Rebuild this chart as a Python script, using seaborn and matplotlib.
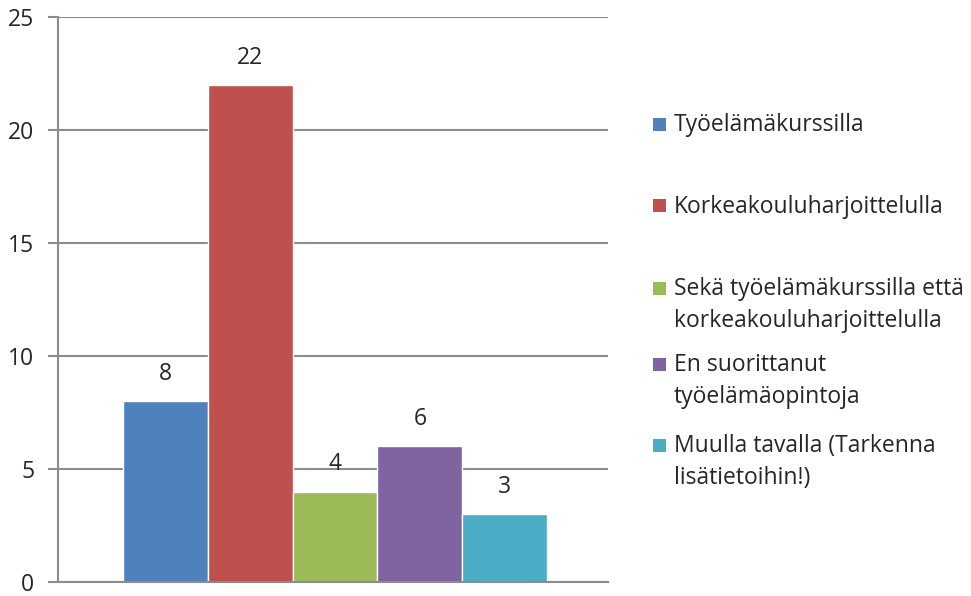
import matplotlib
matplotlib.use("Agg")
import matplotlib.pyplot as plt
import seaborn as sns
import pandas as pd
from matplotlib.patches import Rectangle

# ── Data ─────────────────────────────────────────────────────────────────────
categories = [
    "Työelämäkurssilla",
    "Korkeakouluharjoittelulla",
    "Sekä työelämäkurssilla että\nkorkeakouluharjoittelulla",
    "En suorittanut\ntyöelämäopintoja",
    "Muulla tavalla (Tarkenna\nlisätietoihin!)",
]
counts = [8, 22, 4, 6, 3]
colors = ["#4F81BD", "#C0504D", "#9BBB59", "#8064A2", "#4BACC6"]
y_ticks = [0, 5, 10, 15, 20, 25]

df = pd.DataFrame({"category": categories, "count": counts})

sns.set_theme(style="white")
plt.rcParams["font.family"] = ["Open Sans", "DejaVu Sans"]
text_color = "#262626"
grid_color = "#8C8C8C"
fs = 16.5

fig = plt.figure(figsize=(9.71, 5.96), dpi=100)
ax = fig.add_axes([58 / 971, 14 / 596, 550 / 971, 565 / 596])

sns.barplot(data=df, x="category", y="count", hue="category",
            palette=colors, width=1.0, dodge=False, legend=False,
            saturation=1, ax=ax)

for cont in ax.containers:
    ax.bar_label(cont, padding=11, fontsize=fs, color=text_color)

ax.set_ylim(0, 25)
ax.set_xlim(-1.27, 5.22)
ax.set_yticks(y_ticks)
ax.set_xticks([])
ax.set_xlabel("")
ax.set_ylabel("")
ax.tick_params(axis="y", length=7, width=1.5, color=grid_color, pad=10,
               labelsize=fs, labelcolor=text_color, left=True)
ax.yaxis.grid(True, color=grid_color, linewidth=1.5)
ax.set_axisbelow(True)
for side in ["top", "right"]:
    ax.spines[side].set_visible(False)
for side in ["left", "bottom"]:
    ax.spines[side].set_color(grid_color)
    ax.spines[side].set_linewidth(1.5)

# ── Legend (manual: swatch aligned with the first line of each label) ────────
legend_baseline = [131, 213, 295, 371, 452]
line_pitch = 32
sq = 13
for cat, col, base in zip(categories, colors, legend_baseline):
    cy = base - 7
    fig.patches.append(Rectangle((653 / 971, 1 - (cy + sq / 2) / 596),
                                 sq / 971, sq / 596,
                                 transform=fig.transFigure, facecolor=col,
                                 edgecolor="none"))
    for i, line in enumerate(cat.split("\n")):
        fig.text(674 / 971, 1 - (base + i * line_pitch) / 596, line,
                 fontsize=fs, color=text_color, va="baseline", ha="left")

fig.savefig("out.png", dpi=100, facecolor="white")
